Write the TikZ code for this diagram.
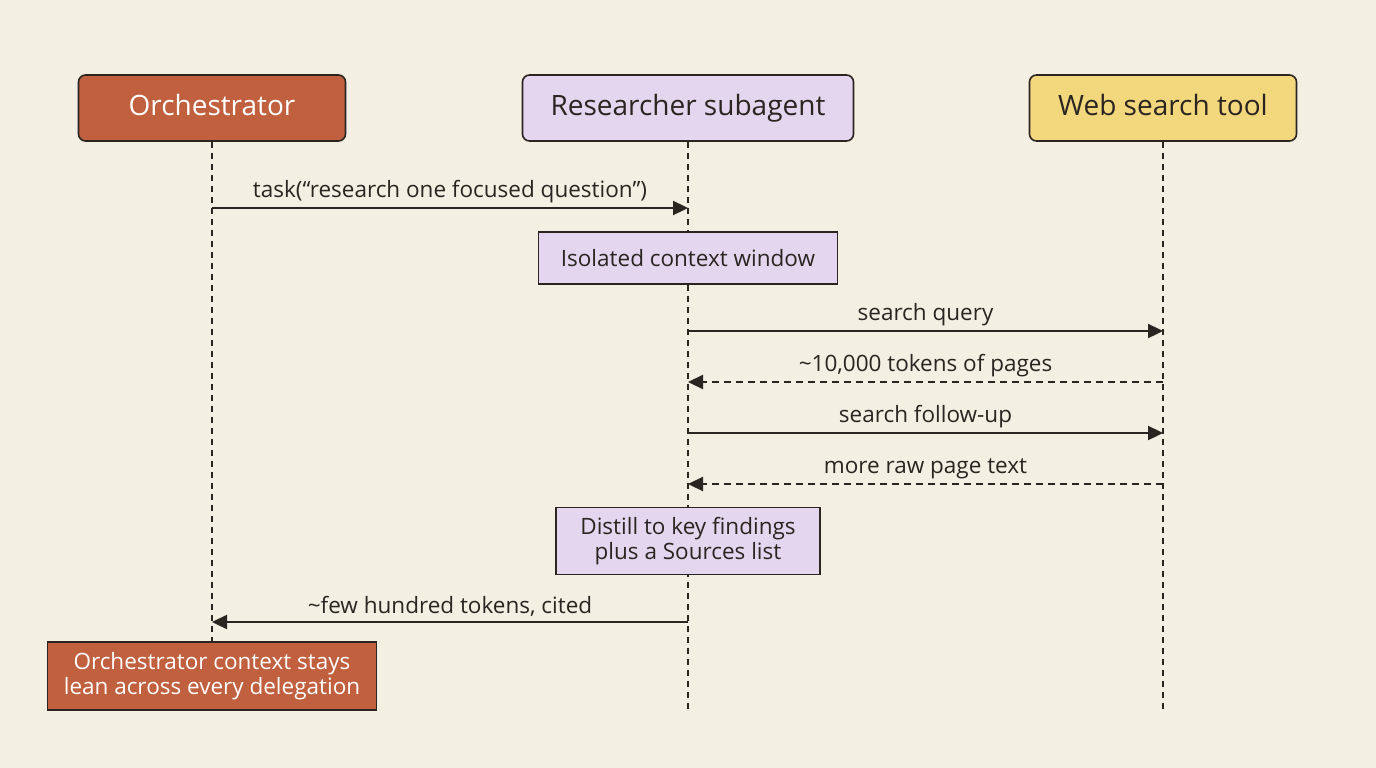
\documentclass[tikz,border=0pt]{standalone}
\usepackage{fontspec}
\setmainfont{Open Sans}
\usetikzlibrary{arrows.meta}
\definecolor{bg}{HTML}{F4EFE3}
\definecolor{orch}{HTML}{C0603E}
\definecolor{lav}{HTML}{E3D6EE}
\definecolor{yel}{HTML}{F3D77D}
\definecolor{ink}{HTML}{2A2520}
\tikzset{x=1pt,y=-1pt,
 head/.style={draw=ink,line width=1.6pt,rounded corners=7pt,minimum height=66pt,text height=20pt,text depth=6pt,font=\fontsize{28}{32}\selectfont,text=ink},
 note/.style={draw=ink,line width=1.4pt,font=\fontsize{22.5}{28}\selectfont,text=ink,align=center},
 life/.style={draw=ink,line width=1.5pt,dash pattern=on 6pt off 5pt},
 msg/.style={draw=ink,line width=2.3pt,-{Triangle[length=15pt,width=14pt]}},
 rmsg/.style={msg,dash pattern=on 7pt off 5pt},
 lbl/.style={font=\fontsize{22.5}{26}\selectfont,text=ink}}
\begin{document}
\begin{tikzpicture}
\fill[bg] (0,0) rectangle (1376,768);
\useasboundingbox (0,0) rectangle (1376,768);
\node[head,fill=orch,text=white,minimum width=267pt] (o) at (212,108) {Orchestrator};
\node[head,fill=lav,minimum width=331pt] (r) at (688,108) {Researcher subagent};
\node[head,fill=yel,minimum width=267pt] (w) at (1163,108) {Web search tool};
\coordinate (oe) at (212,712); \coordinate (re) at (688,712); \coordinate (we) at (1163,712);
\draw[life] (o.south) -- (oe);
\draw[life] (r.south) -- (re);
\draw[life] (w.south) -- (we);
\coordinate (o1) at (212,208); \coordinate (r1) at (688,208);
\draw[msg] (o1) -- node[lbl,above=1pt]{task(“research one focused question”)} (r1);
\node[note,fill=lav,minimum width=299pt,minimum height=52pt] (iso) at (688,258) {Isolated context window};
\coordinate (r2) at (688,331); \coordinate (w2) at (1163,331);
\draw[msg] (r2) -- node[lbl,above=1pt]{search query} (w2);
\coordinate (r3) at (688,382); \coordinate (w3) at (1163,382);
\draw[rmsg] (w3) -- node[lbl,above=1pt]{\textasciitilde10,000 tokens of pages} (r3);
\coordinate (r4) at (688,433); \coordinate (w4) at (1163,433);
\draw[msg] (r4) -- node[lbl,above=1pt]{search follow-up} (w4);
\coordinate (r5) at (688,484); \coordinate (w5) at (1163,484);
\draw[rmsg] (w5) -- node[lbl,above=1pt]{more raw page text} (r5);
\node[note,fill=lav,minimum width=264pt,minimum height=67pt] (dist) at (688,541) {Distill to key findings\\[-3pt]plus a Sources list};
\coordinate (r6) at (688,622); \coordinate (o6) at (212,622);
\draw[msg] (r6) -- node[lbl,above=1pt]{\textasciitilde few hundred tokens, cited} (o6);
\node[note,fill=orch,text=white,minimum width=329pt,minimum height=68pt] (lean) at (212,676) {Orchestrator context stays\\[-3pt]lean across every delegation};
\end{tikzpicture}
\end{document}
